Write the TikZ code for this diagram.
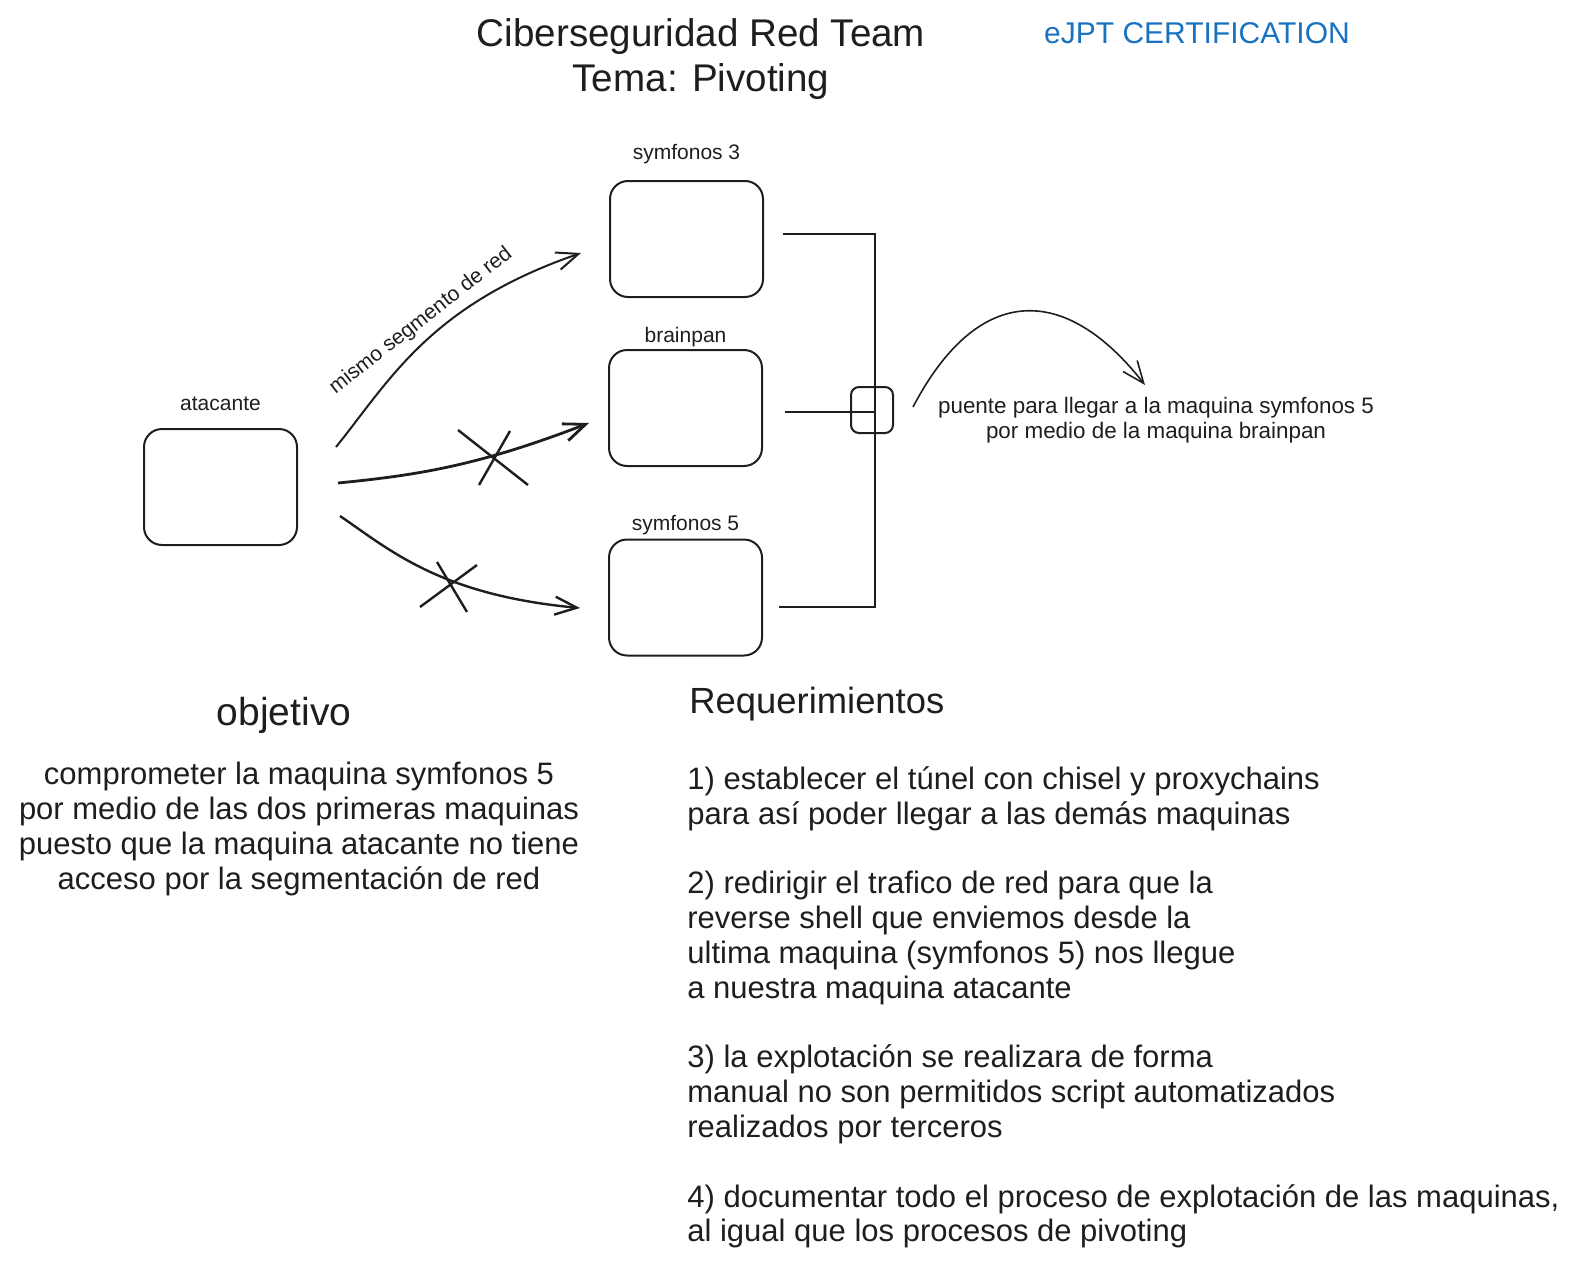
\documentclass[tikz,border=0pt]{standalone}
\usepackage{fontspec}
\setmainfont{Liberation Sans}
\usetikzlibrary{positioning, arrows.meta, calc}

\definecolor{ink}{HTML}{1E1E1E}
\definecolor{ejptblue}{HTML}{1971C2}

\begin{document}
\begin{tikzpicture}[
        x=0.5pt, y=-0.5pt,
        machine/.style={draw=ink, line width=1pt, rounded corners=9pt, minimum width=76.5pt, minimum height=58pt},
        tag/.style={text=ink, font=\fontsize{10.5}{12.5}\selectfont},
        body/.style={text=ink, font=\fontsize{15.5}{17.4}\selectfont},
        heading/.style={text=ink, font=\fontsize{18.2}{21}\selectfont},
        link/.style={draw=ink, line width=1pt, -{Straight Barb[length=11pt, width=9pt]}},
        wire/.style={draw=ink, line width=1.2pt},
        cut/.style={draw=ink, line width=1.2pt}
    ]
    \useasboundingbox (0,0) rectangle (1588,1263);

    % Titulo
    \node (title) [text=ink, align=center, font=\fontsize{19.3}{22.5}\selectfont] at (701,59) {Ciberseguridad Red Team\\Tema: Pivoting};
    \node (cert) [text=ejptblue, font=\fontsize{15}{17}\selectfont] at (1197,33) {eJPT CERTIFICATION};

    % Maquinas
    \node (atacante) [machine] at (220.5,487) {};
    \node (sym3) [machine] at (686.5,239) {};
    \node (brainpan) [machine] at (685.5,408) {};
    \node (sym5) [machine] at (685.5,597.5) {};

    \node (lblatk) [tag, above=5pt of atacante] {atacante};
    \node (lblsym3) [tag, above=4.5pt of sym3] {symfonos 3};
    \node (lblbrain) [tag, above=-2.5pt of brainpan] {brainpan};
    \node (lblsym5) [tag, above=-1.5pt of sym5] {symfonos 5};

    % Puente
    \node (bridge) [draw=ink, line width=1pt, rounded corners=4pt, minimum width=21pt, minimum height=23pt] at (872,410) {};
    \coordinate (bustop) at (875,234);
    \coordinate (busbot) at (875,607);

    \draw[wire] ($(sym3.east)+(19,-5)$) -- (bustop) -- (busbot) -- ($(sym5.east)+(16,9.5)$);
    \draw[wire] ($(brainpan.east)+(22,4)$) -- ($(bustop |- brainpan.east)+(0,4)$);

    \coordinate (puentetip) at (1145,385);
    \draw[draw=ink, line width=0.8pt, -{Straight Barb[length=11pt, width=9pt]}] ($(bridge.east)+(19,-3)$) .. controls (978,283) and (1065,283) .. (puentetip);
    \node (puente) [tag, align=center, font=\fontsize{11.2}{12.5}\selectfont] at (1156,420) {puente para llegar a la maquina symfonos 5\\por medio de la maquina brainpan};

    % Conexiones desde atacante
    \draw[link] ($(atacante.east)+(38,-40)$) .. controls (390,380) and (430,305) .. ($(sym3.west)+(-28,14)$);
    \node (segmento) [tag, rotate=38] at (421,321) {mismo segmento de red};
    \draw[link, line width=1.4pt] ($(atacante.east)+(40,-4)$) .. controls (420,475) and (480,465) .. ($(brainpan.west)+(-19,15)$);
    \draw[link, line width=1.2pt] ($(atacante.east)+(42,29)$) .. controls (390,550) and (440,595) .. ($(sym5.west)+(-28,10.5)$);

    % Cortes
    \draw[cut] (458,430) -- (528,485);
    \draw[cut] (510,431) -- (479,485);
    \draw[cut] (437,562) -- (467,612);
    \draw[cut] (477,565) -- (420,607);

    % Objetivo
    \node (objhead) [heading, font=\fontsize{19.5}{21}\selectfont] at (284,715) {objetivo};
    \node (objtext) [body, align=center] at (299,829) {comprometer la maquina symfonos 5\\por medio de las dos primeras maquinas\\puesto que la maquina atacante no tiene\\acceso por la segmentación de red};

    % Requerimientos
    \node (reqhead) [heading, anchor=west, inner sep=0pt] at (689,704) {Requerimientos};
    \node (reqtext) [body, align=left, anchor=west, inner sep=0pt] at (687,1007.5) {1) establecer el túnel con chisel y proxychains\\para así poder llegar a las demás maquinas\\[17.4pt]2) redirigir el trafico de red para que la\\reverse shell que enviemos desde la\\ultima maquina (symfonos 5) nos llegue\\a nuestra maquina atacante\\[17.4pt]3) la explotación se realizara de forma\\manual no son permitidos script automatizados\\realizados por terceros\\[17.4pt]4) documentar todo el proceso de explotación de las maquinas,\\al igual que los procesos de pivoting};

\end{tikzpicture}
\end{document}
